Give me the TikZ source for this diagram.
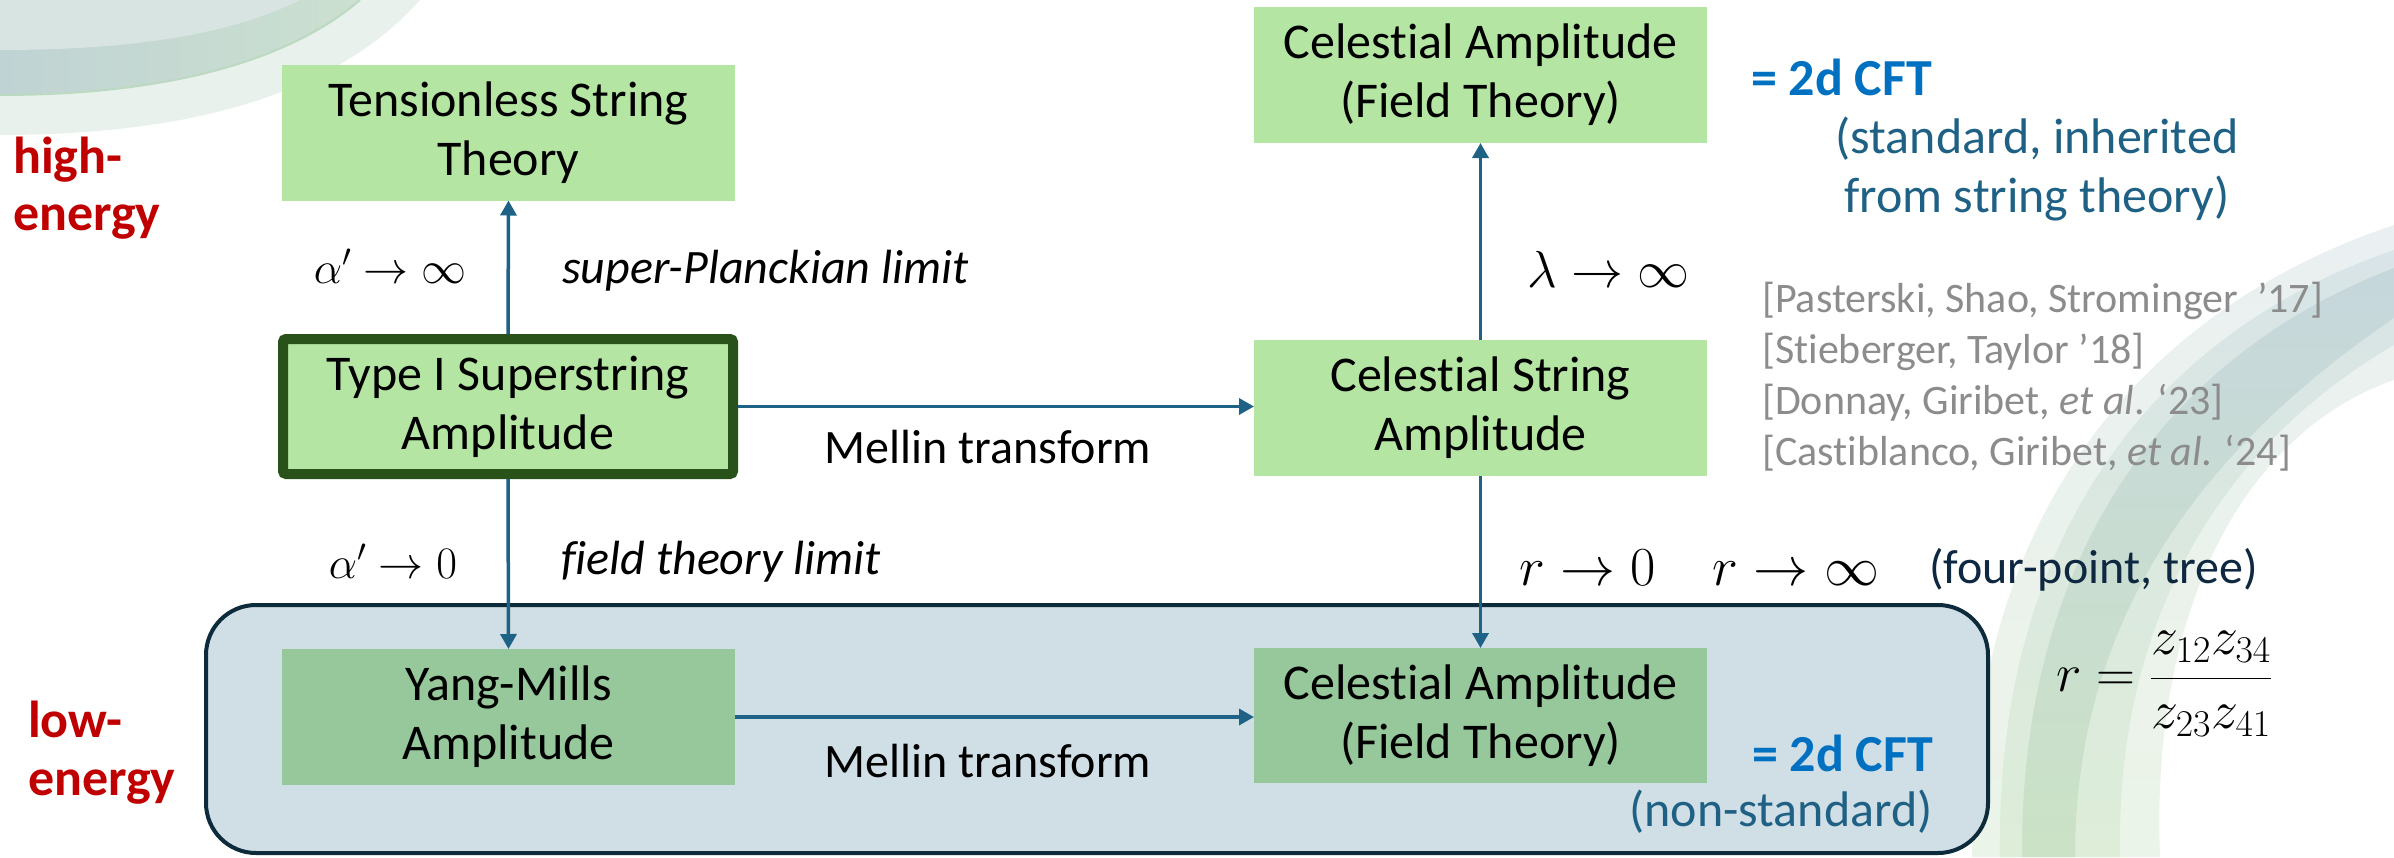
\RequirePackage{fix-cm}
\documentclass[tikz,border=0pt]{standalone}
\usepackage{fontspec}
\setmainfont{Carlito}[RawFeature={-liga;-clig;-calt;-dlig}]
\usetikzlibrary{arrows.meta}
\definecolor{lgreen}{HTML}{B4E5A2}
\definecolor{mgreen}{HTML}{96C89B}
\definecolor{dgreen}{HTML}{29521B}
\definecolor{arrowc}{HTML}{1E6386}
\definecolor{contfill}{HTML}{D0DEE5}
\definecolor{contdraw}{HTML}{0D2B3A}
\definecolor{redlab}{HTML}{C00000}
\definecolor{cftblue}{HTML}{0070C0}
\definecolor{tealtxt}{HTML}{1F6185}
\definecolor{navytxt}{HTML}{0E2841}
\definecolor{refgray}{HTML}{8C8C8C}
\definecolor{swA}{HTML}{E8F1EC}
\definecolor{swB}{HTML}{C0D3D4}
\definecolor{swBb}{HTML}{CBE0D0}
\definecolor{swC}{HTML}{D8E4E2}
\definecolor{swLine}{HTML}{BCD9C2}
\definecolor{rsOt}{HTML}{EAF0F1}
\definecolor{rsOb}{HTML}{EBF4E8}
\definecolor{rsMt}{HTML}{D8E4E7}
\definecolor{rsMb}{HTML}{DDEDD8}
\definecolor{rsIt}{HTML}{C6D7DC}
\definecolor{rsIb}{HTML}{CBE2C6}
\tikzset{
  basebox/.style={inner sep=0pt, outer sep=0pt, align=center, minimum width=453pt, minimum height=136pt, font=\fontsize{50}{59}\selectfont},
  lbox/.style={basebox, fill=lgreen},
  mbox/.style={basebox, fill=mgreen},
  container/.style={draw=contdraw, fill=contfill, line width=4pt, rounded corners=50pt, minimum width=1782pt, minimum height=248pt, inner sep=0pt},
  arr/.style={draw=arrowc, line width=3.5pt, -{Triangle[length=15pt,width=16pt]}},
  lab/.style={inner sep=0pt, font=\fontsize{48}{58}\selectfont},
  itlab/.style={inner sep=0pt, font=\fontsize{48}{58}\selectfont\itshape},
  mathlab/.style={inner sep=0pt, font=\fontsize{#1}{#1}\selectfont},
  redtext/.style={inner sep=0pt, text=redlab, font=\fontsize{52}{60}\selectfont\bfseries},
  cftlab/.style={inner sep=0pt, text=cftblue, font=\fontsize{52}{60}\selectfont\bfseries},
  tealab/.style={inner sep=0pt, text=tealtxt, font=\fontsize{50}{60}\selectfont},
  reflab/.style={inner sep=0pt, text=refgray, font=\fontsize{42}{51}\selectfont},
}
\begin{document}
\begin{tikzpicture}[x=1pt,y=-1pt]
\useasboundingbox (0,0) rectangle (2394,857);
\begin{scope}
\clip (0,0) rectangle (2394,857);
% top-left swoosh
\fill[swA] (0,0) -- (420,0) .. controls (340,90) and (200,135) .. (0,135) -- cycle;
\shade[left color=swB, right color=swBb] (0,0) -- (360,0) .. controls (290,60) and (170,95) .. (0,95) -- cycle;
\draw[color=swLine, line width=2pt] (360,0) .. controls (290,60) and (170,95) .. (0,95);
\fill[swC] (0,0) -- (300,0) .. controls (230,35) and (130,50) .. (0,50) -- cycle;
% right swoosh
\shade[top color=rsOt, bottom color=rsOb] (2394,225) .. controls (2140,310) and (1965,520) .. (1972,857) -- (2160,857) .. controls (2150,600) and (2250,430) .. (2394,380) -- cycle;
\shade[top color=rsMt, bottom color=rsMb] (2394,250) .. controls (2160,330) and (1995,530) .. (2000,857) -- (2120,857) .. controls (2115,610) and (2230,440) .. (2394,345) -- cycle;
\shade[top color=rsIt, bottom color=rsIb] (2394,268) .. controls (2180,350) and (2020,540) .. (2022,857) -- (2075,857) .. controls (2075,620) and (2200,450) .. (2394,318) -- cycle;
\end{scope}

\node[container] (low) at (1097,729) {};

\node[lbox] (ts) at (508.5,132.5) {Tensionless String\\Theory};
\node[lbox, draw=dgreen, line width=10pt, minimum width=450pt, minimum height=135pt, rounded corners=3pt, outer sep=5pt] (ti) at (508,406.5) {Type I Superstring\\Amplitude};
\node[mbox] (ym) at (508.5,717) {Yang-Mills\\Amplitude};
\node[lbox] (cft) at (1480.5,75) {Celestial Amplitude\\(Field Theory)};
\node[lbox] (cs) at (1480.5,408) {Celestial String\\Amplitude};
\node[mbox, minimum height=135pt] (cfb) at (1480.5,715.5) {Celestial Amplitude\\(Field Theory)};

\draw[arr] (ti.north) -- (ts.south);
\draw[arr] (ti.south) -- (ym.north);
\draw[arr] (ti.east) -- (ti.east -| cs.west);
\draw[arr] (cs.north) -- (cft.south);
\draw[arr] (cs.south) -- (cfb.north);
\draw[arr] (ym.east) -- (ym.east -| cfb.west);

\node[lab, anchor=base] (mel1) at (988,463) {Mellin transform};
\node[lab, anchor=base] (mel2) at (988,777) {Mellin transform};
\node[itlab, anchor=base west] (spl) at (562,283) {super-Planckian limit};
\node[itlab, anchor=base west] (ftl) at (561,574) {field theory limit};

\node[mathlab=45, anchor=base] (a1) at (390,283) {$\alpha'\to\infty$};
\node[mathlab=45, anchor=base] (a2) at (393,578) {$\alpha'\to 0$};
\node[mathlab=52, anchor=base] (lam) at (1608.5,287) {$\lambda\to\infty$};
\node[mathlab=55, anchor=base] (r0) at (1587.5,585) {$r\to 0$};
\node[mathlab=55, anchor=base] (rinf) at (1796,585) {$r\to\infty$};
\node[lab, anchor=base west, text=navytxt] (fpt) at (1929,583) {(four-point, tree)};
\node[mathlab=54] (rdef) at (2164,684) {$\displaystyle r=\frac{z_{12}z_{34}}{z_{23}z_{41}}$};

\node[cftlab, anchor=base west] (cft1) at (1751,95) {= 2d CFT};
\node[cftlab, anchor=base west] (cft2) at (1752,771) {= 2d CFT};
\node[tealab, anchor=base] (std1) at (2037,153) {(standard, inherited};
\node[tealab, anchor=base] (std2) at (2037,212) {from string theory)};
\node[tealab, anchor=base] (nst) at (1781,826) {(non-standard)};

\node[reflab, anchor=base west] (ref1) at (1762,312) {[Pasterski, Shao, Strominger\ \ ’17]};
\node[reflab, anchor=base west] (ref2) at (1762,363) {[Stieberger, Taylor ’18]};
\node[reflab, anchor=base west] (ref3) at (1762,414) {[Donnay, Giribet, \textit{et al}. ‘23]};
\node[reflab, anchor=base west] (ref4) at (1762,465) {[Castiblanco, Giribet, \textit{et al}. ‘24]};

\node[redtext, anchor=base west] (h1) at (13,173) {high-};
\node[redtext, anchor=base west] (h2) at (13,230) {energy};
\node[redtext, anchor=base west] (l1) at (28,737) {low-};
\node[redtext, anchor=base west] (l2) at (28,795) {energy};
\end{tikzpicture}
\end{document}
